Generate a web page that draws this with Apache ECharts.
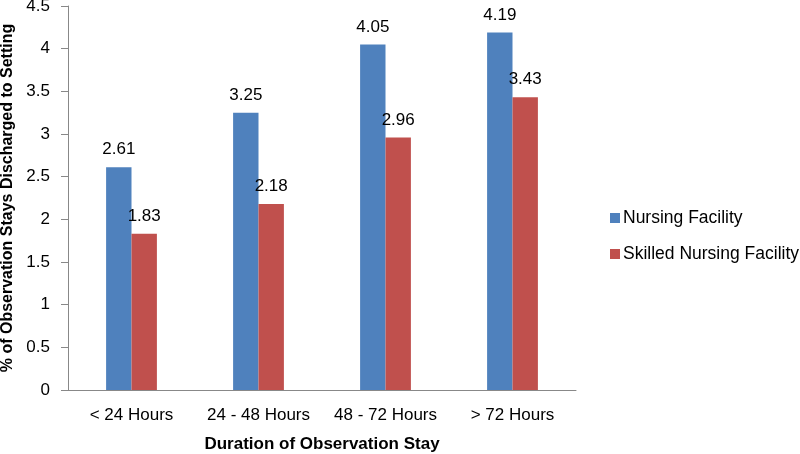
<!DOCTYPE html>
<html>
<head>
<meta charset="utf-8">
<script src="https://cdn.jsdelivr.net/npm/echarts@6/dist/echarts.min.js"></script>
<style>html,body{margin:0;padding:0;background:#fff;}#c{width:800px;height:454px;}</style>
</head>
<body>
<div id="c"></div>
<script>
const categories = ["< 24 Hours", "24 - 48 Hours", "48 - 72 Hours", "> 72 Hours"];
const nursingFacility = [2.61, 3.25, 4.05, 4.19];
const skilledNursingFacility = [1.83, 2.18, 2.96, 3.43];
const seriesNames = ["Nursing Facility", "Skilled Nursing Facility"];
const yTicks = { min: 0, max: 4.5, interval: 0.5 };

const FONT = "'Liberation Sans', Arial, sans-serif";
const chart = echarts.init(document.getElementById('c'), null, { renderer: 'canvas' });
const labelCfg = { show: true, position: 'top', distance: 9, color: '#000', fontSize: 17, fontFamily: FONT };
chart.setOption({
  animation: false,
  backgroundColor: '#fff',
  grid: { left: 68, top: 6, right: 224, bottom: 64, containLabel: false, outerBoundsMode: 'none' },
  legend: {
    orient: 'vertical', left: 605, top: 204, itemWidth: 10, itemHeight: 10, itemGap: 18,
    icon: 'rect',
    textStyle: { fontSize: 17.5, fontFamily: FONT, color: '#000', padding: [0, 0, 0, -2] },
    data: seriesNames
  },
  xAxis: {
    type: 'category', data: categories,
    axisLine: { lineStyle: { color: '#888', width: 1 } },
    axisTick: { show: false },
    axisLabel: { color: '#000', fontSize: 17, fontFamily: FONT, margin: 17, interval: 0, hideOverlap: false },
    name: 'Duration of Observation Stay', nameLocation: 'middle', nameGap: 46,
    nameTextStyle: { fontWeight: 'bold', fontSize: 17, fontFamily: FONT, color: '#000' }
  },
  yAxis: {
    type: 'value', min: yTicks.min, max: yTicks.max, interval: yTicks.interval,
    axisLine: { show: true, lineStyle: { color: '#888', width: 1 } },
    axisTick: { show: true, length: 7, lineStyle: { color: '#888' } },
    splitLine: { show: false },
    axisLabel: { color: '#000', fontSize: 17, fontFamily: FONT, margin: 18 },
    name: '% of Observation Stays Discharged to Setting', nameLocation: 'middle', nameGap: 48,
    nameTextStyle: { fontWeight: 'bold', fontSize: 16, fontFamily: FONT, color: '#000' }
  },
  series: [
    { name: seriesNames[0], type: 'bar', data: nursingFacility, barGap: '0%', barCategoryGap: '60%',
      itemStyle: { color: '#4F81BD' }, label: labelCfg },
    { name: seriesNames[1], type: 'bar', data: skilledNursingFacility,
      itemStyle: { color: '#C0504D' }, label: labelCfg }
  ]
});
</script>
</body>
</html>
